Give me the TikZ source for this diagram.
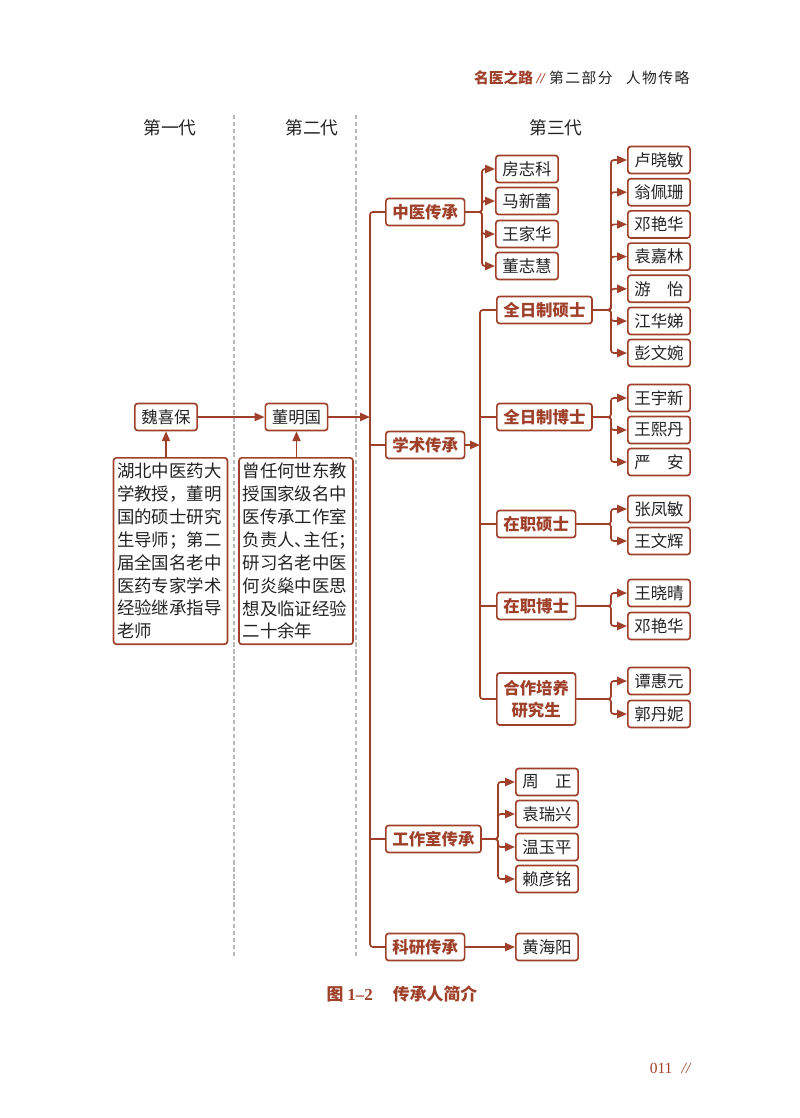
\documentclass[tikz,border=0pt]{standalone}
\usepackage{fontspec}
\setmainfont{Noto Sans CJK SC}
\newfontfamily\latinserif{Liberation Serif}
\usetikzlibrary{arrows.meta}
\definecolor{zhe}{RGB}{158,64,42}
\definecolor{ink}{RGB}{35,35,35}

\begin{document}
\begin{tikzpicture}[x=0.025cm, y=-0.025cm, line width=1.2pt,
  box/.style={draw=zhe, rounded corners=2pt, line width=1.2pt, inner xsep=4.6pt, inner ysep=0pt, minimum height=0.675cm},
  person/.style={box, anchor=west, text=ink, font=\fontsize{11.7}{14}\selectfont},
  branch/.style={box, anchor=west, text=zhe, align=center, font=\fontsize{11.7}{15.6}\selectfont\bfseries},
  note/.style={box, anchor=north, text=ink, align=left, text width=76pt, inner xsep=2.5pt, inner ysep=3.5pt, font=\fontsize{12.4}{16.3}\selectfont},
  link/.style={draw=zhe, line width=1.2pt, rounded corners=2pt},
  arr/.style={link, -{Triangle[length=7pt,width=5.8pt]}},
  gen/.style={text=ink, font=\fontsize{12.6}{15}\selectfont},
  sep/.style={draw=gray!55, line width=0.9pt, dash pattern=on 3pt off 2pt}]
  \useasboundingbox (0,0) rectangle (800,1118);

  % running head and folio
  \node[anchor=east, text=ink, font=\fontsize{10.5}{12}\selectfont] (head) at (695,78) {{\color{zhe}\bfseries 名医之路 {\latinserif\itshape //}}\hspace{0.3em}{\addfontfeatures{LetterSpace=10}第二部分}\hspace{0.9em}{\addfontfeatures{LetterSpace=10}人物传略}};
  \node[anchor=east, text=zhe, font=\latinserif\fontsize{11}{12}\selectfont] (folio) at (697,1068) {011\hspace{0.6em}\textit{//}};

  % generations
  \node[gen] (g1) at (170,128) {第一代};
  \node[gen] (g2) at (312,128) {第二代};
  \node[gen] (g3) at (556,128) {第三代};
  \draw[sep] (234,115) -- (234,958);
  \draw[sep] (356,115) -- (356,958);

  % first and second generation
  \node[box, text=ink, font=\fontsize{11.7}{14}\selectfont] (wxb) at (166,417) {魏喜保};
  \node[box, text=ink, font=\fontsize{11.7}{14}\selectfont] (dmg) at (296.5,417) {董明国};
  \node[note] (n1) at (170.5,457) {湖北中医药大\\学教授，董明\\国的硕士研究\\生导师；第二\\届全国名老中\\医药专家学术\\经验继承指导\\老师};
  \node[note] (n2) at (296,457) {曾任何世东教\\授国家级名中\\医传承工作室\\负责人\makebox[0.5em][l]{、}主任\makebox[0.5em][l]{；}\\研习名老中医\\何炎燊中医思\\想及临证经验\\二十余年};

  % third generation: branches
  \node[branch] (zycc) at (385,212) {中医传承};
  \node[branch] (xscc) at (385,445) {学术传承};
  \node[branch] (gzs) at (385,839) {工作室传承};
  \node[branch] (kycc) at (385,947) {科研传承};

  \node[branch] (qrss) at (496,310) {全日制硕士};
  \node[branch] (qrbs) at (496,417) {全日制博士};
  \node[branch] (zzss) at (496,524) {在职硕士};
  \node[branch] (zzbs) at (496,606) {在职博士};
  \node[branch, minimum height=1.3cm] (hzpy) at (496,699) {合作培养\\研究生};

  % names
  \node[person] (fzk) at (495,169) {房志科};
  \node[person] (mxl) at (495,201) {马新蕾};
  \node[person] (wjh) at (495,234) {王家华};
  \node[person] (dzh) at (495,266) {董志慧};

  \node[person] (lxm) at (627,160) {卢晓敏};
  \node[person] (wps) at (627,192.2) {翁佩珊};
  \node[person] (dyha) at (627,224.4) {邓艳华};
  \node[person] (yjl) at (627,256.6) {袁嘉林};
  \node[person] (yy) at (627,288.8) {游\hspace{1em}怡};
  \node[person] (jht) at (627,321) {江华娣};
  \node[person] (pww) at (627,353) {彭文婉};

  \node[person] (wyx) at (627,398) {王宇新};
  \node[person] (wxd) at (627,430) {王熙丹};
  \node[person] (ya) at (627,462) {严\hspace{1em}安};

  \node[person] (zfm) at (627,509) {张凤敏};
  \node[person] (wwh) at (627,541) {王文辉};

  \node[person] (wxq) at (627,593) {王晓晴};
  \node[person] (dyhb) at (627,626) {邓艳华};

  \node[person] (thy) at (627,681) {谭惠元};
  \node[person] (gdn) at (627,714) {郭丹妮};

  \node[person] (zz) at (515,782) {周\hspace{1em}正};
  \node[person] (yrx) at (515,814) {袁瑞兴};
  \node[person] (wyp) at (515,847) {温玉平};
  \node[person] (lym) at (515,879) {赖彦铭};

  \node[person] (hhy) at (515,947) {黄海阳};

  % trunk and forks
  \coordinate (trunk) at (370,0);
  \coordinate (sub) at (480,0);
  \coordinate (zyfork) at (482,0);
  \coordinate (xsfork) at (611,0);
  \coordinate (gzfork) at (498,0);

  \draw[arr] (wxb |- n1.north) -- (wxb);
  \draw[arr] (dmg |- n2.north) -- (dmg);
  \draw[arr] (wxb) -- (dmg);
  \draw[arr] (dmg.east) -- (dmg.east -| trunk);

  \draw[link] (zycc.west) -| (trunk |- kycc.west) -- (kycc.west);
  \draw[link] (xscc.west) -- (xscc.west -| trunk);
  \draw[link] (gzs.west) -- (gzs.west -| trunk);

  \draw[arr] (xscc.east) -- (xscc.east -| sub);
  \draw[link] (qrss.west) -| (sub |- hzpy.west) -- (hzpy.west);
  \draw[link] (qrbs.west) -- (qrbs.west -| sub);
  \draw[link] (zzss.west) -- (zzss.west -| sub);
  \draw[link] (zzbs.west) -- (zzbs.west -| sub);

  \foreach \n in {fzk,mxl,wjh,dzh}
    \draw[arr] (zycc.east) -- (zycc.east -| zyfork) |- (\n.west);
  \foreach \n in {lxm,wps,dyha,yjl,yy,jht,pww}
    \draw[arr] (qrss.east) -- (qrss.east -| xsfork) |- (\n.west);
  \foreach \n in {wyx,wxd,ya}
    \draw[arr] (qrbs.east) -- (qrbs.east -| xsfork) |- (\n.west);
  \foreach \n in {zfm,wwh}
    \draw[arr] (zzss.east) -- (zzss.east -| xsfork) |- (\n.west);
  \foreach \n in {wxq,dyhb}
    \draw[arr] (zzbs.east) -- (zzbs.east -| xsfork) |- (\n.west);
  \foreach \n in {thy,gdn}
    \draw[arr] (hzpy.east) -- (hzpy.east -| xsfork) |- (\n.west);
  \foreach \n in {zz,yrx,wyp,lym}
    \draw[arr] (gzs.east) -- (gzs.east -| gzfork) |- (\n.west);
  \draw[arr] (kycc) -- (hhy);

  % caption
  \node[text=zhe, font=\fontsize{12}{14}\selectfont\bfseries] (cap) at (402,994) {图 {\latinserif 1–2}\hspace{1.2em}传承人简介};
\end{tikzpicture}
\end{document}
